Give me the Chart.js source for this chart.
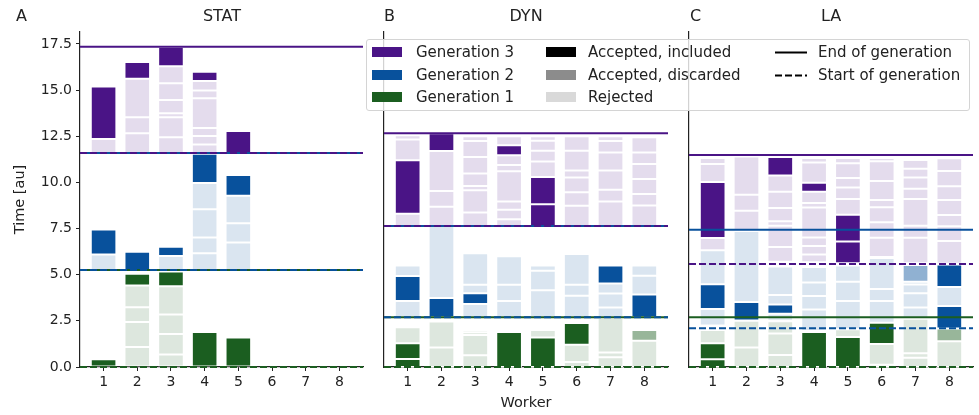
<!DOCTYPE html>
<html>
<head>
<meta charset="utf-8">
<script src="https://cdn.jsdelivr.net/npm/chart.js@4.4.1/dist/chart.umd.min.js"></script>
<style>
  body { margin: 0; background: #fff; }
  #wrap { position: relative; width: 979px; height: 415px; font-family: "DejaVu Sans", sans-serif; color: #222; }
  canvas { position: absolute; top: 0; }
  .txt { position: absolute; top: 8px; font-size: 16px; line-height: 16px; white-space: nowrap; }
  .ttl { width: 200px; text-align: center; }
  #legend { position: absolute; left: 366px; top: 39px; width: 604px; height: 72px; box-sizing: border-box;
            border: 1px solid #d4d4d4; border-radius: 3px; background: rgba(255,255,255,0.8); z-index: 5; }
  .item { position: absolute; height: 20px; line-height: 20px; font-size: 15px; white-space: nowrap; }
  .patch { position: absolute; width: 30px; height: 10px; top: 5px; }
  .lbl { position: absolute; top: 0; }
</style>
</head>
<body>
<div id="wrap">
  <canvas id="chartA" width="370" height="415" style="left:0px"></canvas>
  <canvas id="chartB" width="305" height="415" style="left:370px"></canvas>
  <canvas id="chartC" width="304" height="415" style="left:675px"></canvas>

  <div class="txt" style="left:16px">A</div>
  <div class="txt" style="left:384px">B</div>
  <div class="txt" style="left:690px">C</div>
  <div class="txt ttl" style="left:122px">STAT</div>
  <div class="txt ttl" style="left:426px">DYN</div>
  <div class="txt ttl" style="left:731px">LA</div>

  <div id="legend"></div>
</div>

<script>
const workers = [1, 2, 3, 4, 5, 6, 7, 8];
const yTicks = [0, 2.5, 5, 7.5, 10, 12.5, 15, 17.5];
const yMax = 18.15;
const xMin = 0.3, xMax = 8.7;

// segments: [worker, start, end, status]  A = accepted/included, D = accepted/discarded, R = rejected
const statG1 = [
  [1, 0, 0.42, 'A'],
  [2, 0, 1.08, 'R'], [2, 1.08, 2.44, 'R'], [2, 2.44, 3.24, 'R'], [2, 3.24, 4.42, 'R'], [2, 4.42, 5.05, 'A'],
  [3, 0, 0.68, 'R'], [3, 0.68, 1.79, 'R'], [3, 1.79, 2.84, 'R'], [3, 2.84, 4.38, 'R'], [3, 4.38, 5.18, 'A'],
  [4, 0, 1.9, 'A'],
  [5, 0, 1.6, 'A']
];
const statG2 = [
  [1, 5.25, 6.1, 'R'], [1, 6.1, 7.45, 'A'],
  [2, 5.15, 6.25, 'A'],
  [3, 5.25, 6.02, 'R'], [3, 6.02, 6.52, 'A'],
  [4, 5.25, 6.16, 'R'], [4, 6.16, 7.01, 'R'], [4, 7.01, 8.55, 'R'], [4, 8.55, 9.97, 'R'], [4, 9.97, 11.55, 'A'],
  [5, 5.25, 6.74, 'R'], [5, 6.74, 7.79, 'R'], [5, 7.79, 9.28, 'R'], [5, 9.28, 10.4, 'A']
];
const statG3 = [
  [1, 11.6, 12.35, 'R'], [1, 12.35, 15.2, 'A'],
  [2, 11.6, 12.67, 'R'], [2, 12.67, 13.53, 'R'], [2, 13.53, 15.62, 'R'], [2, 15.62, 16.52, 'A'],
  [3, 11.6, 12.45, 'R'], [3, 12.45, 13.53, 'R'], [3, 13.53, 13.75, 'R'], [3, 13.75, 14.47, 'R'],
  [3, 14.47, 15.38, 'R'], [3, 15.38, 16.3, 'R'], [3, 16.3, 17.35, 'A'],
  [4, 11.6, 12.05, 'R'], [4, 12.05, 12.52, 'R'], [4, 12.52, 12.95, 'R'], [4, 12.95, 14.56, 'R'],
  [4, 14.56, 14.98, 'R'], [4, 14.98, 15.5, 'R'], [4, 15.5, 16.0, 'A'],
  [5, 11.6, 12.78, 'A']
];
const statEnd = [5.25, 11.6, 17.35];
const statStart = [0, 5.25, 11.6];

const dynG1 = [
  [1, 0, 0.44, 'A'], [1, 0.44, 1.28, 'A'], [1, 1.28, 2.15, 'R'],
  [2, 0, 1.05, 'R'], [2, 1.05, 2.46, 'R'],
  [3, 0, 0.63, 'R'], [3, 0.63, 1.73, 'R'], [3, 1.73, 1.88, 'R'], [3, 1.88, 2.0, 'R'],
  [4, 0, 1.9, 'A'],
  [5, 0, 1.6, 'A'], [5, 1.6, 2.0, 'R'],
  [6, 0, 0.27, 'R'], [6, 0.27, 1.2, 'R'], [6, 1.2, 2.38, 'A'],
  [7, 0, 0.53, 'R'], [7, 0.53, 0.78, 'R'], [7, 0.78, 2.66, 'R'],
  [8, 0, 1.42, 'R'], [8, 1.42, 2.0, 'D']
];
const dynG2 = [
  [1, 2.7, 3.57, 'R'], [1, 3.57, 4.93, 'A'], [1, 4.93, 5.5, 'R'],
  [2, 2.7, 3.74, 'A'], [2, 3.74, 7.64, 'R'],
  [3, 2.7, 3.42, 'R'], [3, 3.42, 4.0, 'A'], [3, 4.0, 4.45, 'R'], [3, 4.45, 6.16, 'R'],
  [4, 2.7, 3.58, 'R'], [4, 3.58, 4.45, 'R'], [4, 4.45, 6.0, 'R'],
  [5, 2.7, 4.16, 'R'], [5, 4.16, 5.22, 'R'], [5, 5.22, 5.5, 'R'],
  [6, 2.7, 3.86, 'R'], [6, 3.86, 4.45, 'R'], [6, 4.45, 6.12, 'R'],
  [7, 2.7, 3.22, 'R'], [7, 3.22, 3.98, 'R'], [7, 3.98, 4.52, 'R'], [7, 4.52, 5.5, 'A'],
  [8, 2.7, 3.93, 'A'], [8, 3.93, 4.94, 'R'], [8, 4.94, 5.5, 'R']
];
const dynG3 = [
  [1, 7.64, 8.3, 'R'], [1, 8.3, 11.2, 'A'], [1, 11.2, 12.32, 'R'], [1, 12.32, 12.55, 'R'],
  [2, 7.64, 8.68, 'R'], [2, 8.68, 9.54, 'R'], [2, 9.54, 11.7, 'R'], [2, 11.7, 12.67, 'A'],
  [3, 7.64, 8.37, 'R'], [3, 8.37, 9.58, 'R'], [3, 9.58, 9.8, 'R'], [3, 9.8, 10.48, 'R'],
  [3, 10.48, 11.38, 'R'], [3, 11.38, 12.25, 'R'], [3, 12.25, 12.5, 'R'],
  [4, 7.64, 8.0, 'R'], [4, 8.0, 8.52, 'R'], [4, 8.52, 8.96, 'R'], [4, 8.96, 10.6, 'R'],
  [4, 10.6, 10.95, 'R'], [4, 10.95, 11.47, 'R'], [4, 11.47, 12.02, 'A'], [4, 12.02, 12.5, 'R'],
  [5, 7.64, 8.82, 'A'], [5, 8.82, 10.3, 'A'], [5, 10.3, 11.14, 'R'], [5, 11.14, 11.72, 'R'],
  [5, 11.72, 12.26, 'R'], [5, 12.26, 12.5, 'R'],
  [6, 7.64, 8.74, 'R'], [6, 8.74, 9.47, 'R'], [6, 9.47, 10.27, 'R'], [6, 10.27, 10.64, 'R'],
  [6, 10.64, 11.72, 'R'], [6, 11.72, 12.5, 'R'],
  [7, 7.64, 8.97, 'R'], [7, 8.97, 9.6, 'R'], [7, 9.6, 10.64, 'R'], [7, 10.64, 11.62, 'R'],
  [7, 11.62, 12.25, 'R'], [7, 12.25, 12.5, 'R'],
  [8, 7.64, 8.75, 'R'], [8, 8.75, 9.37, 'R'], [8, 9.37, 10.19, 'R'], [8, 10.19, 11.0, 'R'],
  [8, 11.0, 11.62, 'R'], [8, 11.62, 12.45, 'R']
];
const dynEnd = [2.7, 7.64, 12.67];
const dynStart = [0, 2.7, 7.64];

const laG1 = [
  [1, 0, 0.42, 'A'], [1, 0.42, 1.28, 'A'], [1, 1.28, 2.0, 'R'],
  [2, 0, 1.05, 'R'], [2, 1.05, 2.5, 'R'],
  [3, 0, 0.65, 'R'], [3, 0.65, 1.82, 'R'], [3, 1.82, 2.48, 'R'],
  [4, 0, 1.9, 'A'],
  [5, 0, 1.62, 'A'], [5, 1.62, 2.05, 'R'],
  [6, 0, 0.12, 'R'], [6, 0.12, 1.24, 'R'], [6, 1.24, 2.4, 'A'],
  [7, 0, 0.5, 'R'], [7, 0.5, 0.74, 'R'], [7, 0.74, 2.62, 'R'],
  [8, 0, 1.4, 'R'], [8, 1.4, 2.08, 'D']
];
const laG2 = [
  [1, 2.25, 3.14, 'R'], [1, 3.14, 4.48, 'A'], [1, 4.48, 6.32, 'R'],
  [2, 2.52, 3.52, 'A'], [2, 3.52, 7.37, 'R'],
  [3, 2.5, 2.88, 'R'], [3, 2.88, 3.38, 'A'], [3, 3.38, 3.9, 'R'], [3, 3.9, 5.45, 'R'],
  [4, 1.95, 3.12, 'R'], [4, 3.12, 3.85, 'R'], [4, 3.85, 4.58, 'R'], [4, 4.58, 5.42, 'R'],
  [5, 2.05, 3.58, 'R'], [5, 3.58, 4.62, 'R'], [5, 4.62, 5.5, 'R'],
  [6, 2.4, 3.58, 'R'], [6, 3.58, 4.22, 'R'], [6, 4.22, 5.9, 'R'],
  [7, 2.62, 3.22, 'R'], [7, 3.22, 4.0, 'R'], [7, 4.0, 4.47, 'R'], [7, 4.47, 4.62, 'R'], [7, 4.62, 5.52, 'D'],
  [8, 2.08, 3.3, 'A'], [8, 3.3, 4.34, 'R'], [8, 4.34, 5.55, 'A']
];
const laG3 = [
  [1, 6.32, 6.99, 'R'], [1, 6.99, 10.02, 'A'], [1, 10.02, 11.0, 'R'], [1, 11.0, 11.32, 'R'],
  [2, 7.4, 8.47, 'R'], [2, 8.47, 9.33, 'R'], [2, 9.33, 11.4, 'R'],
  [3, 5.7, 6.5, 'R'], [3, 6.5, 7.65, 'R'], [3, 7.65, 7.9, 'R'], [3, 7.9, 8.62, 'R'],
  [3, 8.62, 9.5, 'R'], [3, 9.5, 10.38, 'R'], [3, 10.38, 11.38, 'A'],
  [4, 5.68, 6.1, 'R'], [4, 6.1, 6.55, 'R'], [4, 6.55, 7.02, 'R'], [4, 7.02, 8.64, 'R'], [4, 8.64, 8.88, 'R'],
  [4, 8.88, 9.5, 'R'], [4, 9.5, 9.98, 'A'], [4, 9.98, 11.08, 'R'], [4, 11.08, 11.32, 'R'],
  [5, 5.62, 6.8, 'A'], [5, 6.8, 8.25, 'A'], [5, 8.25, 9.1, 'R'], [5, 9.1, 9.72, 'R'],
  [5, 9.72, 10.24, 'R'], [5, 10.24, 11.04, 'R'], [5, 11.04, 11.32, 'R'],
  [6, 5.96, 7.0, 'R'], [6, 7.0, 7.84, 'R'], [6, 7.84, 8.65, 'R'], [6, 8.65, 9.05, 'R'],
  [6, 9.05, 10.08, 'R'], [6, 10.08, 11.15, 'R'], [6, 11.15, 11.32, 'R'],
  [7, 5.62, 7.0, 'R'], [7, 7.0, 7.65, 'R'], [7, 7.65, 9.1, 'R'], [7, 9.1, 9.66, 'R'],
  [7, 9.66, 10.27, 'R'], [7, 10.27, 10.74, 'R'], [7, 10.74, 11.22, 'R'],
  [8, 5.6, 6.82, 'R'], [8, 6.82, 7.62, 'R'], [8, 7.62, 8.24, 'R'], [8, 8.24, 9.05, 'R'],
  [8, 9.05, 9.79, 'R'], [8, 9.79, 10.62, 'R'], [8, 10.62, 11.31, 'R']
];
const laEnd = [2.69, 7.43, 11.49];
const laStart = [0, 2.1, 5.58];

const genNames = ['Generation 1', 'Generation 2', 'Generation 3'];
const genRGB = ['27,94,32', '8,81,156', '74,20,134'];
const statusAlpha = { A: 1, D: 0.45, R: 0.15 };
const tickFont = { family: 'DejaVu Sans', size: 14 };

function buildDatasets(gens, ends, starts) {
  const ds = [];
  // start-of-generation (dashed) on top, then end-of-generation (solid)
  starts.forEach((v, g) => ds.push({
    type: 'line', data: [{ x: xMin, y: v }, { x: xMax, y: v }],
    borderColor: 'rgb(' + genRGB[g] + ')', borderWidth: 2, borderDash: [7, 3],
    pointRadius: 0, clip: false, order: 1
  }));
  ends.forEach((v, g) => ds.push({
    type: 'line', data: [{ x: xMin, y: v }, { x: xMax, y: v }],
    borderColor: 'rgb(' + genRGB[g] + ')', borderWidth: 2,
    pointRadius: 0, clip: false, order: 2
  }));
  gens.forEach((segs, g) => {
    ['R', 'D', 'A'].forEach(st => {
      const pts = segs.filter(s => s[3] === st).map(s => ({ x: s[0], y: [s[1], s[2]] }));
      if (!pts.length) return;
      ds.push({
        type: 'bar', data: pts, grouped: false, order: 10,
        backgroundColor: 'rgba(' + genRGB[g] + ',' + statusAlpha[st] + ')',
        borderColor: '#ffffff', borderWidth: 1, borderSkipped: false,
        barPercentage: 0.76, categoryPercentage: 1
      });
    });
  });
  return ds;
}

function makeChart(id, gens, ends, starts, cfg) {
  new Chart(document.getElementById(id), {
    type: 'bar',
    data: { datasets: buildDatasets(gens, ends, starts) },
    options: {
      responsive: false, animation: false, devicePixelRatio: 1,
      layout: { padding: { left: 0, right: cfg.padRight, top: 32, bottom: 0 } },
      plugins: { legend: { display: false }, tooltip: { enabled: false } },
      scales: {
        x: {
          type: 'linear', min: xMin, max: xMax, offset: false,
          afterBuildTicks: s => { s.ticks = workers.map(v => ({ value: v })); },
          afterFit: s => { s.height = 48; },
          grid: { display: true, drawOnChartArea: false, drawTicks: true, tickLength: 4, color: '#222', offset: false },
          border: { display: true, color: '#222', width: 1.2 },
          ticks: { color: '#222', font: tickFont, padding: 3, maxRotation: 0, autoSkip: false, callback: v => String(v) },
          title: cfg.xTitle ? { display: true, text: cfg.xTitle, color: '#222',
                                font: { family: 'DejaVu Sans', size: 14.5 }, padding: { top: 0, bottom: 3 } }
                            : { display: false }
        },
        y: {
          type: 'linear', min: 0, max: yMax,
          afterBuildTicks: s => { s.ticks = yTicks.map(v => ({ value: v })); },
          afterFit: s => { s.width = cfg.yWidth; },
          grid: { display: cfg.showY, drawOnChartArea: false, drawTicks: true, tickLength: 4, color: '#222' },
          border: { display: true, color: '#222', width: 1.2 },
          ticks: { display: cfg.showY, color: '#222', font: tickFont, padding: 4, callback: v => v.toFixed(1) },
          title: cfg.showY ? { display: true, text: 'Time [au]', color: '#222',
                               font: { family: 'DejaVu Sans', size: 14.5 }, padding: { top: 12, bottom: 0 } }
                           : { display: false }
        }
      }
    }
  });
}

makeChart('chartA', [statG1, statG2, statG3], statEnd, statStart, { padRight: 7, yWidth: 80, showY: true });
makeChart('chartB', [dynG1, dynG2, dynG3], dynEnd, dynStart, { padRight: 7, yWidth: 14, showY: false, xTitle: 'Worker' });
makeChart('chartC', [laG1, laG2, laG3], laEnd, laStart, { padRight: 6, yWidth: 14, showY: false });

// legend (figure level, drawn over the middle panels)
const legendRows = [13.3, 35.7, 58.3];
const statusNames = ['Accepted, included', 'Accepted, discarded', 'Rejected'];
const statusSwatch = ['#000000', '#8c8c8c', '#d9d9d9'];
const lineNames = ['End of generation', 'Start of generation'];
const lg = document.getElementById('legend');
function addItem(row, x, textX, swatchHtml, text) {
  const d = document.createElement('div');
  d.className = 'item';
  d.style.left = '0px';
  d.style.top = (legendRows[row] - 10 - 1) + 'px';
  d.innerHTML = swatchHtml.replace('LEFT', x) + '<span class="lbl" style="left:' + textX + 'px">' + text + '</span>';
  lg.appendChild(d);
}
[2, 1, 0].forEach((g, row) => addItem(row, 5, 49,
  '<div class="patch" style="left:LEFTpx;background:rgb(' + genRGB[g] + ')"></div>', genNames[g]));
statusNames.forEach((t, row) => addItem(row, 179, 221,
  '<div class="patch" style="left:LEFTpx;background:' + statusSwatch[row] + '"></div>', t));
lineNames.forEach((t, row) => addItem(row, 408, 451,
  '<svg style="position:absolute;left:LEFTpx;top:9px" width="32" height="3"><line x1="0" y1="1.5" x2="32" y2="1.5" stroke="#000" stroke-width="2"' +
  (row === 1 ? ' stroke-dasharray="7,3"' : '') + '/></svg>', t));
</script>
</body>
</html>
